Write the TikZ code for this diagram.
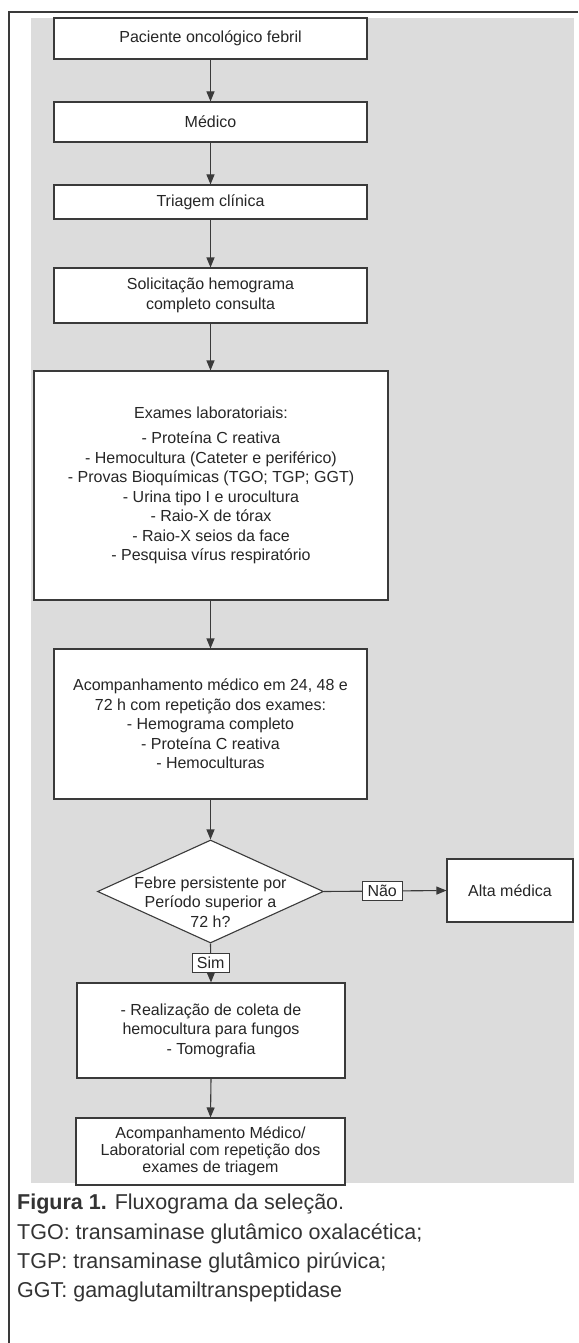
\documentclass[tikz,border=0pt]{standalone}
\usepackage{fontspec}
\setmainfont{Liberation Sans}
\usetikzlibrary{arrows.meta,shapes.geometric}
\definecolor{panelgray}{HTML}{DCDCDC}
\definecolor{inkgray}{HTML}{3A3A3A}
\tikzset{
  stepbox/.style = {draw=inkgray, fill=white, line width=1.1pt, align=center,
                    font=\fontsize{16}{19.5}\selectfont, text=black!85, inner sep=2pt},
  decide/.style  = {diamond, draw=inkgray, fill=white, line width=1.1pt, inner sep=0pt},
  flowarr/.style = {-{Triangle[length=10pt,width=8pt]}, inkgray, line width=1.1pt},
  tag/.style     = {draw=inkgray, fill=white, line width=1pt, inner sep=1pt,
                    font=\fontsize{16}{19}\selectfont, text=black!85},
  capline/.style = {anchor=base west, inner sep=0pt, text=black!80,
                    font=\fontsize{21.5}{26}\selectfont}
}

\begin{document}
\begin{tikzpicture}[x=1pt,y=-1pt]
  \useasboundingbox (0,0) rectangle (578,1343);
  \fill[white] (0,0) rectangle (578,1343);
  \fill[panelgray] (31,18) rectangle (574,1183);
  \draw[inkgray,line width=1.4pt] (578,12) -- (9,12) -- (9,1343);

  % main column
  \node[stepbox,minimum width=313pt,minimum height=41pt] (pac) at (210.5,38.5)
       {Paciente oncológico febril};
  \node[stepbox,minimum width=313pt,minimum height=40pt] (med) at (210.5,122)
       {Médico};
  \node[stepbox,minimum width=313pt,minimum height=34pt] (tri) at (210.5,202)
       {Triagem clínica};
  \node[stepbox,minimum width=313pt,minimum height=55pt] (sol) at (210.5,295.5)
       {Solicitação hemograma\\ completo consulta};
  \node[stepbox,minimum width=354pt,minimum height=229pt] (exa) at (211,485.5)
       {Exames laboratoriais:\\[5.5pt]
        - Proteína C reativa\\
        - Hemocultura (Cateter e periférico)\\
        - Provas Bioquímicas (TGO; TGP; GGT)\\
        - Urina tipo I e urocultura\\
        - Raio-X de tórax\\
        - Raio-X seios da face\\
        - Pesquisa vírus respiratório};
  \node[stepbox,minimum width=313pt,minimum height=150pt] (acp) at (210.5,724)
       {Acompanhamento médico em 24, 48 e\\
        72 h com repetição dos exames:\\
        - Hemograma completo\\
        - Proteína C reativa\\
        - Hemoculturas};
  \node[decide,minimum width=226pt,minimum height=103pt] (feb) at (210.5,891.5) {};
  \node[stepbox,align=center,font=\fontsize{16}{19.5}\selectfont,fill=none,draw=none,
        inner sep=0pt] (febtxt) at ([yshift=-10.5pt]feb.center)
       {Febre persistente por\\ Período superior a\\ 72 h?};
  \node[stepbox,minimum width=126pt,minimum height=63pt] (alta) at (510,890.5)
       {Alta médica};
  \node[stepbox,minimum width=268pt,minimum height=95pt] (fun) at (211,1030.5)
       {- Realização de coleta de\\ hemocultura para fungos\\ - Tomografia};
  \node[stepbox,minimum width=269pt,minimum height=67pt,
        font=\fontsize{16}{17}\selectfont] (lab) at (210.5,1151.5)
       {Acompanhamento Médico/\\ Laboratorial com repetição dos\\ exames de triagem};

  % connectors
  \draw[flowarr] (pac.south) -- (med.north);
  \draw[flowarr] (med.south) -- (tri.north);
  \draw[flowarr] (tri.south) -- (sol.north);
  \draw[flowarr] (sol.south) -- (exa.north -| sol.south);
  \draw[flowarr] (exa.south -| acp.north) -- (acp.north);
  \draw[flowarr] (acp.south) -- (feb.north);
  \draw[flowarr] (feb.east) -- node[tag,pos=0.475,minimum width=40pt,minimum height=19pt] {Não} (alta.west);
  \draw[flowarr] (feb.south) -- node[tag,midway,minimum width=37pt,minimum height=19pt] {Sim} (fun.north);
  \draw[flowarr] (fun.south) -- (lab.north);

  % caption
  \node[capline] (cap) at (17,1209) {\textbf{Figura 1.} Fluxograma da seleção.};
  \node[capline] (tgo) at (17,1239) {TGO: transaminase glutâmico oxalacética;};
  \node[capline] (tgp) at (17,1268) {TGP: transaminase glutâmico pirúvica;};
  \node[capline] (ggt) at (17,1297) {GGT: gamaglutamiltranspeptidase};
\end{tikzpicture}
\end{document}
